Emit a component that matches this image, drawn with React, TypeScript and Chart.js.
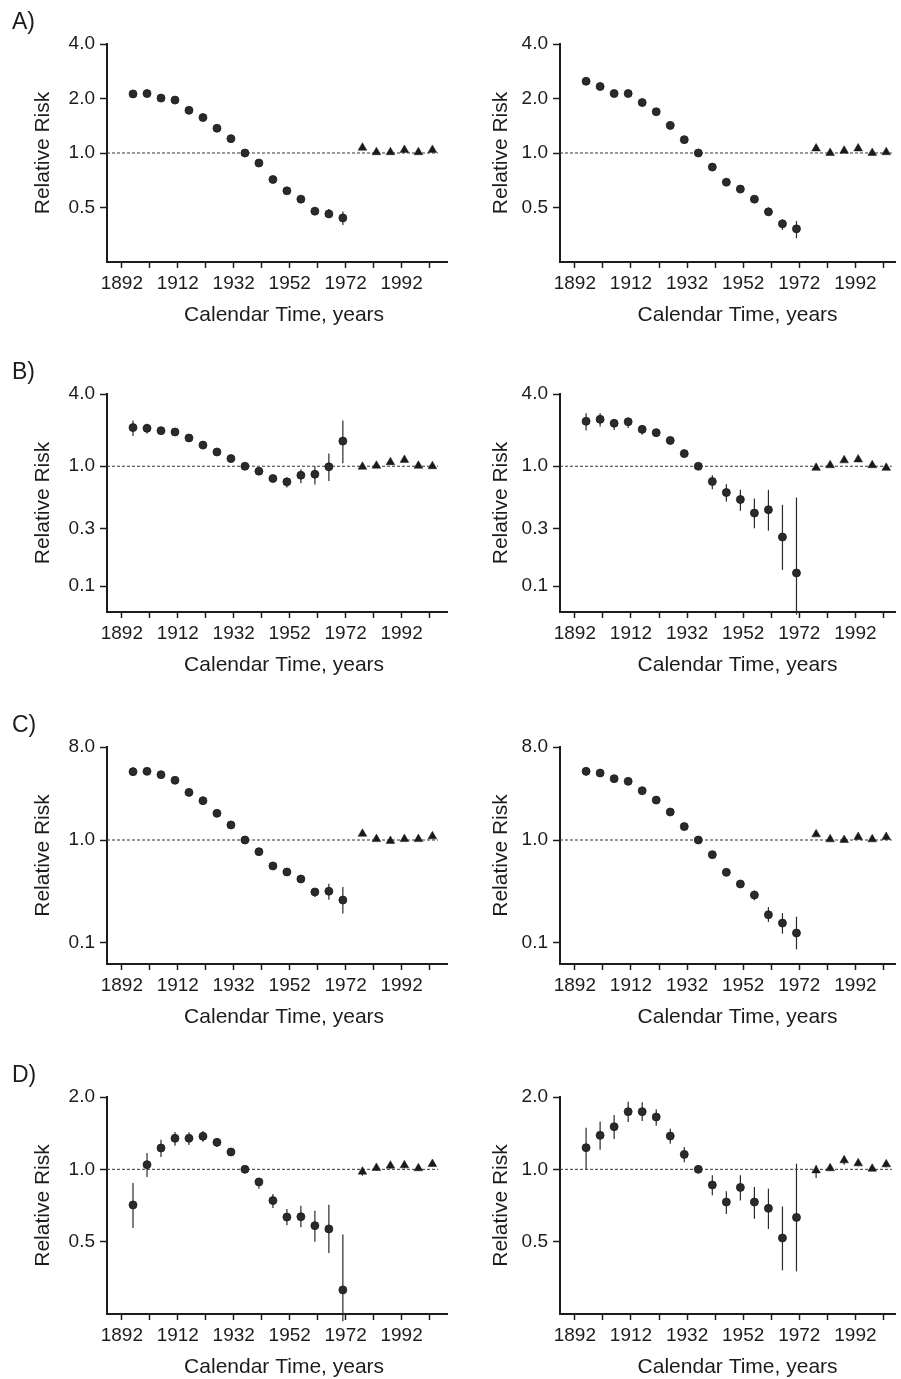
import React, { useEffect, useRef } from 'react';
import { Chart, registerables } from 'chart.js';

Chart.register(...registerables);

// ---------- data ----------
const circleYears = [1896, 1901, 1906, 1911, 1916, 1921, 1926, 1931, 1936, 1941, 1946, 1951, 1956, 1961, 1966, 1971];
const triangleYears = [1978, 1983, 1988, 1993, 1998, 2003];
const xTickYears = [1892, 1902, 1912, 1922, 1932, 1942, 1952, 1962, 1972, 1982, 1992, 2002];
const xLabelYears = [1892, 1912, 1932, 1952, 1972, 1992];
const refLineYears = [1886.7, 2005];
const refLineValue = 1.0;
const panelLetters = ['A)', 'B)', 'C)', 'D)'];
const xTitle = 'Calendar Time, years';
const yTitle = 'Relative Risk';

const yTicksA = [0.5, 1.0, 2.0, 4.0];
const yTicksB = [0.1, 0.3, 1.0, 4.0];
const yTicksC = [0.1, 1.0, 8.0];
const yTicksD = [0.5, 1.0, 2.0];
const yMinByRow = [0.25, 0.061, 0.0625, 0.25];
const yMaxByRow = [4.0, 4.0, 8.0, 2.0];

// Panel A, left
const aLeftRR = [2.12, 2.13, 2.01, 1.96, 1.72, 1.57, 1.37, 1.2, 1.0, 0.88, 0.714, 0.618, 0.556, 0.477, 0.461, 0.438];
const aLeftLo = [2.04, 2.05, 1.95, 1.91, 1.68, 1.53, 1.34, 1.17, 1.0, 0.86, 0.7, 0.6, 0.54, 0.46, 0.44, 0.4];
const aLeftHi = [2.21, 2.22, 2.07, 2.02, 1.77, 1.61, 1.4, 1.23, 1.0, 0.9, 0.73, 0.64, 0.57, 0.5, 0.49, 0.475];
const aLeftTri = [1.07, 1.01, 1.01, 1.04, 1.01, 1.04];
const aLeftTriLo = [1.05, 0.99, 0.99, 1.02, 0.99, 1.02];
const aLeftTriHi = [1.09, 1.03, 1.03, 1.06, 1.03, 1.06];

// Panel A, right
const aRightRR = [2.49, 2.33, 2.13, 2.13, 1.9, 1.69, 1.42, 1.185, 1.0, 0.836, 0.69, 0.632, 0.556, 0.473, 0.406, 0.381];
const aRightLo = [2.4, 2.25, 2.06, 2.06, 1.84, 1.64, 1.38, 1.15, 1.0, 0.81, 0.67, 0.61, 0.535, 0.45, 0.376, 0.338];
const aRightHi = [2.58, 2.42, 2.2, 2.2, 1.96, 1.74, 1.46, 1.22, 1.0, 0.86, 0.71, 0.655, 0.578, 0.5, 0.43, 0.421];
const aRightTri = [1.06, 1.0, 1.03, 1.06, 1.0, 1.01];
const aRightTriLo = [1.04, 0.98, 1.01, 1.04, 0.98, 0.99];
const aRightTriHi = [1.08, 1.02, 1.05, 1.08, 1.02, 1.03];

// Panel B, left
const bLeftRR = [2.1, 2.07, 1.98, 1.93, 1.72, 1.5, 1.315, 1.158, 1.0, 0.909, 0.79, 0.741, 0.842, 0.858, 0.99, 1.62];
const bLeftLo = [1.79, 1.87, 1.86, 1.81, 1.64, 1.44, 1.27, 1.12, 1.0, 0.87, 0.75, 0.665, 0.722, 0.704, 0.755, 1.06];
const bLeftHi = [2.41, 2.26, 2.12, 2.06, 1.81, 1.57, 1.36, 1.2, 1.0, 0.95, 0.83, 0.805, 0.944, 1.0, 1.28, 2.41];
const bLeftTri = [0.99, 1.01, 1.08, 1.13, 1.01, 1.0];
const bLeftTriLo = [0.96, 0.98, 1.05, 1.1, 0.98, 0.97];
const bLeftTriHi = [1.02, 1.04, 1.11, 1.16, 1.04, 1.03];

// Panel B, right
const bRightRR = [2.37, 2.46, 2.28, 2.35, 2.03, 1.905, 1.64, 1.274, 1.0, 0.746, 0.604, 0.528, 0.407, 0.434, 0.257, 0.129];
const bRightLo = [1.99, 2.14, 2.0, 2.08, 1.83, 1.76, 1.52, 1.18, 1.0, 0.644, 0.508, 0.425, 0.304, 0.29, 0.137, 0.058];
const bRightHi = [2.76, 2.76, 2.46, 2.52, 2.19, 2.05, 1.76, 1.36, 1.0, 0.842, 0.709, 0.636, 0.539, 0.636, 0.477, 0.549];
const bRightTri = [0.97, 1.02, 1.12, 1.14, 1.02, 0.97];
const bRightTriLo = [0.94, 0.99, 1.09, 1.11, 0.99, 0.94];
const bRightTriHi = [1.0, 1.05, 1.15, 1.17, 1.05, 1.0];

// Panel C, left
const cLeftRR = [4.61, 4.64, 4.31, 3.8, 2.9, 2.41, 1.815, 1.4, 1.0, 0.77, 0.56, 0.489, 0.418, 0.313, 0.318, 0.261];
const cLeftLo = [4.2, 4.3, 4.0, 3.55, 2.75, 2.28, 1.72, 1.33, 1.0, 0.73, 0.53, 0.46, 0.39, 0.28, 0.263, 0.193];
const cLeftHi = [5.1, 5.0, 4.6, 4.05, 3.05, 2.55, 1.92, 1.47, 1.0, 0.81, 0.59, 0.52, 0.445, 0.342, 0.377, 0.35];
const cLeftTri = [1.15, 1.02, 0.98, 1.02, 1.02, 1.085];
const cLeftTriLo = [1.12, 0.99, 0.95, 0.99, 0.99, 1.05];
const cLeftTriHi = [1.18, 1.05, 1.01, 1.05, 1.05, 1.12];

// Panel C, right
const cRightRR = [4.64, 4.47, 3.94, 3.71, 3.01, 2.44, 1.87, 1.35, 1.0, 0.721, 0.485, 0.374, 0.292, 0.188, 0.156, 0.125];
const cRightLo = [4.2, 4.15, 3.7, 3.48, 2.85, 2.31, 1.77, 1.28, 1.0, 0.69, 0.46, 0.35, 0.26, 0.16, 0.123, 0.0865];
const cRightHi = [5.1, 4.8, 4.2, 3.95, 3.18, 2.58, 1.98, 1.43, 1.0, 0.755, 0.51, 0.4, 0.323, 0.223, 0.195, 0.18];
const cRightTri = [1.135, 1.015, 1.0, 1.07, 1.015, 1.07];
const cRightTriLo = [1.1, 0.98, 0.97, 1.04, 0.98, 1.04];
const cRightTriHi = [1.17, 1.05, 1.03, 1.1, 1.05, 1.1];

// Panel D, left
const dLeftRR = [0.711, 1.046, 1.227, 1.346, 1.346, 1.372, 1.295, 1.181, 1.0, 0.886, 0.741, 0.633, 0.635, 0.583, 0.565, 0.315];
const dLeftLo = [0.57, 0.929, 1.125, 1.254, 1.262, 1.304, 1.24, 1.14, 1.0, 0.831, 0.69, 0.585, 0.574, 0.5, 0.449, 0.233];
const dLeftHi = [0.877, 1.169, 1.329, 1.43, 1.426, 1.444, 1.35, 1.22, 1.0, 0.923, 0.79, 0.684, 0.706, 0.673, 0.713, 0.535];
const dLeftTri = [0.978, 1.013, 1.036, 1.039, 1.01, 1.052];
const dLeftTriLo = [0.94, 0.99, 1.01, 1.01, 0.99, 1.03];
const dLeftTriHi = [1.02, 1.03, 1.06, 1.07, 1.03, 1.08];

// Panel D, right
const dRightRR = [1.231, 1.385, 1.505, 1.738, 1.738, 1.651, 1.376, 1.154, 1.0, 0.861, 0.731, 0.841, 0.731, 0.688, 0.518, 0.631];
const dRightLo = [1.0, 1.207, 1.337, 1.574, 1.59, 1.52, 1.279, 1.069, 1.0, 0.78, 0.652, 0.741, 0.623, 0.565, 0.38, 0.376];
const dRightHi = [1.49, 1.583, 1.683, 1.91, 1.9, 1.78, 1.477, 1.238, 1.0, 0.944, 0.81, 0.944, 0.844, 0.831, 0.701, 1.056];
const dRightTri = [0.99, 1.01, 1.09, 1.059, 1.006, 1.049];
const dRightTriLo = [0.92, 0.99, 1.045, 1.03, 0.99, 1.02];
const dRightTriHi = [1.039, 1.03, 1.13, 1.09, 1.02, 1.08];

// ---------- layout ----------
const FONT = "'Liberation Sans', Arial, Helvetica, sans-serif";
const INK = '#1c1c1c';
const chartTops = [44, 394, 747, 1097];
const chartHeights = [218, 218, 217, 217];
const PAGE_H = 1379;

type PanelProps = {
  left: number;
  top: number;
  width: number;
  height: number;
  areaTop: number;
  areaH: number;
  yWidth: number;
  yTitlePad: number;
  xMax: number;
  letter: string | null;
  yTicks: number[];
  yMin: number;
  yMax: number;
  rr: number[];
  lo: number[];
  hi: number[];
  tri: number[];
  triLo: number[];
  triHi: number[];
};

function Panel(p: PanelProps) {
  const ref = useRef<HTMLCanvasElement | null>(null);
  useEffect(() => {
    if (!ref.current) return;
    const extras = {
      id: 'extras',
      beforeDatasetsDraw(chart: any) {
        const { ctx } = chart;
        const xs = chart.scales.x;
        const ys = chart.scales.y;
        ctx.save();
        ctx.strokeStyle = '#2a2a2a';
        ctx.lineWidth = 1.2;
        const bars = (years: number[], l: number[], h: number[]) => {
          years.forEach((yr, i) => {
            const px = xs.getPixelForValue(yr);
            ctx.beginPath();
            ctx.moveTo(px, ys.getPixelForValue(l[i]));
            ctx.lineTo(px, ys.getPixelForValue(h[i]));
            ctx.stroke();
          });
        };
        bars(circleYears, p.lo, p.hi);
        bars(triangleYears, p.triLo, p.triHi);
        ctx.restore();
      },
      afterDraw(chart: any) {
        const { ctx, chartArea } = chart;
        const xs = chart.scales.x;
        ctx.save();
        ctx.fillStyle = INK;
        ctx.font = `21px ${FONT}`;
        ctx.textAlign = 'center';
        ctx.textBaseline = 'alphabetic';
        ctx.fillText(xTitle, xs.getPixelForValue(1950), chartArea.bottom + 59);
        if (p.letter) {
          ctx.font = `23px ${FONT}`;
          ctx.textAlign = 'left';
          ctx.fillText(p.letter, 12, chartArea.top - 15);
        }
        ctx.restore();
      },
    };

    const chart = new Chart(ref.current, {
      type: 'scatter',
      data: {
        datasets: [
          {
            label: 'period',
            data: triangleYears.map((x, i) => ({ x, y: p.tri[i] })),
            pointStyle: 'triangle',
            pointRadius: 5,
            backgroundColor: '#1a1a1a',
            borderColor: '#1a1a1a',
            borderWidth: 0.5,
            order: 1,
          },
          {
            label: 'cohort',
            data: circleYears.map((x, i) => ({ x, y: p.rr[i] })),
            pointStyle: 'circle',
            pointRadius: 4,
            backgroundColor: '#2a2a2a',
            borderColor: '#1a1a1a',
            borderWidth: 0.8,
            order: 1,
          },
          {
            type: 'line',
            label: 'reference',
            data: refLineYears.map((x) => ({ x, y: refLineValue })),
            borderColor: '#333',
            borderWidth: 1,
            borderDash: [3, 2],
            pointRadius: 0,
            fill: false,
            order: 3,
          } as any,
        ],
      },
      options: {
        responsive: false,
        animation: false,
        events: [],
        layout: { padding: { top: p.areaTop, left: 0, right: 0, bottom: 0 } },
        plugins: {
          legend: { display: false },
          tooltip: { enabled: false },
          title: { display: false },
        },
        scales: {
          x: {
            type: 'linear',
            position: 'bottom',
            min: 1886.7,
            max: p.xMax,
            afterBuildTicks: (scale: any) => {
              scale.ticks = xTickYears.map((v) => ({ value: v }));
            },
            afterFit: (scale: any) => {
              scale.height = p.height - p.areaTop - p.areaH;
            },
            ticks: {
              autoSkip: false,
              maxRotation: 0,
              minRotation: 0,
              padding: 4,
              color: INK,
              font: { family: FONT, size: 19 },
              callback: (v: any) => (xLabelYears.includes(Number(v)) ? String(v) : ''),
            },
            grid: {
              display: true,
              drawOnChartArea: false,
              drawTicks: true,
              tickLength: 6,
              tickColor: INK,
              tickWidth: 1.5,
            },
            border: { display: true, color: INK, width: 2 },
          },
          y: {
            type: 'logarithmic',
            position: 'left',
            min: p.yMin,
            max: p.yMax,
            afterBuildTicks: (scale: any) => {
              scale.ticks = p.yTicks.map((v) => ({ value: v }));
            },
            afterFit: (scale: any) => {
              scale.width = p.yWidth;
            },
            ticks: {
              padding: 5,
              color: INK,
              font: { family: FONT, size: 19 },
              callback: (v: any) => Number(v).toFixed(1),
            },
            grid: {
              display: true,
              drawOnChartArea: false,
              drawTicks: true,
              tickLength: 7,
              tickColor: INK,
              tickWidth: 1.5,
            },
            border: { display: true, color: INK, width: 2 },
            title: {
              display: true,
              text: yTitle,
              color: INK,
              font: { family: FONT, size: 21 },
              padding: { top: p.yTitlePad, bottom: 0 },
            },
          },
        },
      },
      plugins: [extras],
    } as any);
    return () => chart.destroy();
  }, []);
  return (
    <canvas
      ref={ref}
      width={p.width}
      height={p.height}
      style={{ position: 'absolute', left: p.left, top: p.top, width: p.width, height: p.height, display: 'block' }}
    />
  );
}

const rowTicks = [yTicksA, yTicksB, yTicksC, yTicksD];
const leftSeries = [
  [aLeftRR, aLeftLo, aLeftHi, aLeftTri, aLeftTriLo, aLeftTriHi],
  [bLeftRR, bLeftLo, bLeftHi, bLeftTri, bLeftTriLo, bLeftTriHi],
  [cLeftRR, cLeftLo, cLeftHi, cLeftTri, cLeftTriLo, cLeftTriHi],
  [dLeftRR, dLeftLo, dLeftHi, dLeftTri, dLeftTriLo, dLeftTriHi],
];
const rightSeries = [
  [aRightRR, aRightLo, aRightHi, aRightTri, aRightTriLo, aRightTriHi],
  [bRightRR, bRightLo, bRightHi, bRightTri, bRightTriLo, bRightTriHi],
  [cRightRR, cRightLo, cRightHi, cRightTri, cRightTriLo, cRightTriHi],
  [dRightRR, dRightLo, dRightHi, dRightTri, dRightTriLo, dRightTriHi],
];

export default function App() {
  const panels: any[] = [];
  for (let r = 0; r < 4; r++) {
    const canvasTop = chartTops[r] - 44;
    const nextTop = r < 3 ? chartTops[r + 1] - 44 : PAGE_H;
    const h = nextTop - canvasTop;
    const common = {
      top: canvasTop,
      height: h,
      areaTop: 44,
      areaH: chartHeights[r],
      yTicks: rowTicks[r],
      yMin: yMinByRow[r],
      yMax: yMaxByRow[r],
    };
    const L = leftSeries[r];
    const R = rightSeries[r];
    panels.push(
      <Panel
        key={`L${r}`}
        {...common}
        left={0}
        width={453}
        yWidth={107}
        yTitlePad={31}
        xMax={2008.4}
        letter={panelLetters[r]}
        rr={L[0]} lo={L[1]} hi={L[2]} tri={L[3]} triLo={L[4]} triHi={L[5]}
      />
    );
    panels.push(
      <Panel
        key={`R${r}`}
        {...common}
        left={450}
        width={451}
        yWidth={110}
        yTitlePad={39}
        xMax={2006.3}
        letter={null}
        rr={R[0]} lo={R[1]} hi={R[2]} tri={R[3]} triLo={R[4]} triHi={R[5]}
      />
    );
  }
  return (
    <div style={{ position: 'absolute', left: 0, top: 0, width: 901, height: PAGE_H, background: '#fff', overflow: 'hidden' }}>
      {panels}
    </div>
  );
}
